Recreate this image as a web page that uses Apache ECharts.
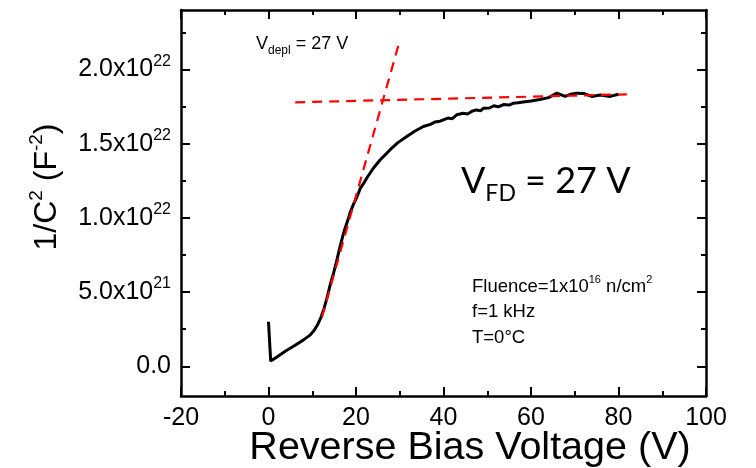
<!DOCTYPE html>
<html>
<head>
<meta charset="utf-8">
<script src="https://cdn.jsdelivr.net/npm/echarts@6/dist/echarts.min.js"></script>
<style>
html,body{margin:0;padding:0;background:#fff;}
#chart{width:756px;height:468px;}
</style>
</head>
<body>
<div id="chart"></div>
<script>
// Reverse bias voltage (V)
const voltage = [0.0, 0.5, 2, 4, 6, 8, 9.5, 10.5, 11.3, 12.0, 12.7, 13.4, 14.2, 14.8, 15.5, 16.3, 17.0, 17.5, 18.2, 18.6, 19.4, 20.2, 21.0, 21.7, 22.5, 24.0, 25.5, 27.8, 29.5, 31.6, 33.5, 35.4, 37.0, 38.0, 39.2, 41.0, 42.0, 43.0, 44.5, 45.5, 46.5, 47.5, 48.5, 49.1, 50.5, 51.5, 52.5, 53.7, 55.0, 56.0, 57.0, 58.2, 60.0, 62.0, 64.0, 65.9, 67.8, 69.0, 70.5, 72.0, 73.9, 75.8, 78.1, 80.0];
// 1/C^2 in units of 1e22 F^-2
const invCapSq = [0.30, 0.035, 0.065, 0.105, 0.14, 0.178, 0.21, 0.245, 0.285, 0.33, 0.39, 0.464, 0.56, 0.62, 0.70, 0.80, 0.88, 0.93, 0.99, 1.03, 1.09, 1.14, 1.20, 1.23, 1.27, 1.336, 1.39, 1.459, 1.505, 1.548, 1.585, 1.615, 1.63, 1.645, 1.651, 1.672, 1.668, 1.694, 1.704, 1.70, 1.718, 1.727, 1.722, 1.738, 1.740, 1.755, 1.748, 1.763, 1.760, 1.772, 1.775, 1.780, 1.787, 1.797, 1.810, 1.840, 1.818, 1.832, 1.840, 1.838, 1.818, 1.828, 1.818, 1.832];
// Red dashed fit lines
const steepFitV = [12.2, 29.7];
const steepFitY = [0.33, 2.163];
const flatFitV = [6.1, 81.9];
const flatFitY = [1.778, 1.832];
// Axis ticks
const xMin = -20, xMax = 100, xStep = 20;
const yMin = -0.2, yMax = 2.4;
const yMajorTicks = [0, 0.5, 1.0, 1.5, 2.0];
const yMinorTicks = [0.25, 0.75, 1.25, 1.75, 2.25];
const yTickMantissa = ['0.0', '5.0', '1.0', '1.5', '2.0'];
const yTickExponent = ['', '21', '22', '22', '22'];

const FONT = 'Liberation Sans, Arial, sans-serif';
const chart = echarts.init(document.getElementById('chart'), null, {renderer: 'canvas'});

const toPairs = (xs, ys) => xs.map((x, i) => [x, ys[i]]);
const axisLine = {show: true, onZero: false, lineStyle: {color: '#000', width: 2.5}};
const tickStyle = {color: '#000', width: 2};

function xAxisDef(pos, showLabel) {
  return {
    type: 'value', position: pos, min: xMin, max: xMax, interval: xStep,
    axisLine: axisLine,
    axisTick: {show: true, inside: true, length: 9, lineStyle: tickStyle},
    minorTick: {show: true, splitNumber: 2, length: 5, lineStyle: tickStyle},
    axisLabel: {show: showLabel, fontSize: 25, fontFamily: FONT, color: '#000', margin: 10},
    splitLine: {show: false}, minorSplitLine: {show: false}
  };
}
function yAxisDef(pos, ticks, len, showLine, showLabel) {
  return {
    type: 'value', position: pos, min: yMin, max: yMax,
    axisLine: Object.assign({}, axisLine, {show: showLine}),
    axisTick: {show: true, inside: true, length: len, lineStyle: tickStyle, customValues: ticks},
    axisLabel: showLabel ? {
      show: true, customValues: ticks, margin: 10,
      formatter: function (v) {
        let i = yMajorTicks.findIndex(t => Math.abs(t - v) < 1e-9);
        if (i < 0) return '';
        return yTickExponent[i] ? '{b|' + yTickMantissa[i] + 'x10}{s|' + yTickExponent[i] + '}' : '{b|' + yTickMantissa[i] + '}';
      },
      rich: {
        b: {fontSize: 25, fontFamily: FONT, color: '#000', lineHeight: 32},
        s: {fontSize: 16, fontFamily: FONT, color: '#000', verticalAlign: 'top', lineHeight: 16}
      }
    } : {show: false},
    splitLine: {show: false}
  };
}

chart.setOption({
  animation: false,
  backgroundColor: '#fff',
  grid: {left: 181, right: 50, top: 10, bottom: 72, containLabel: false},
  xAxis: [xAxisDef('bottom', true), xAxisDef('top', false)],
  yAxis: [
    yAxisDef('left', yMajorTicks, 9, true, true),
    yAxisDef('left', yMinorTicks, 5, false, false),
    yAxisDef('right', yMajorTicks, 9, true, false),
    yAxisDef('right', yMinorTicks, 5, false, false)
  ],
  series: [
    {type: 'line', data: toPairs(voltage, invCapSq), showSymbol: false, symbol: 'none',
     lineStyle: {color: '#000', width: 3}, z: 2},
    {type: 'line', data: toPairs(steepFitV, steepFitY), showSymbol: false, symbol: 'none',
     lineStyle: {color: '#ff0000', width: 2.2, type: [10, 7]}, z: 3},
    {type: 'line', data: toPairs(flatFitV, flatFitY), showSymbol: false, symbol: 'none',
     lineStyle: {color: '#ff0000', width: 2.2, type: [10, 7]}, z: 3}
  ],
  graphic: [
    {type: 'text', x: 470, y: 448, style: {text: 'Reverse Bias Voltage (V)', fontSize: 39.5, fontFamily: FONT, fill: '#000', align: 'center', verticalAlign: 'middle'}},
    {type: 'text', x: 47, y: 187, rotation: Math.PI / 2, style: {
      text: '{a|1/C}{s|2}{a| (F}{s|-2}{a|)}', align: 'center', verticalAlign: 'middle',
      rich: {
        a: {fontSize: 32, fontFamily: FONT, fill: '#000', lineHeight: 40},
        s: {fontSize: 19, fontFamily: FONT, fill: '#000', verticalAlign: 'top', lineHeight: 19}
      }}},
    {type: 'text', x: 256, y: 44, style: {
      text: '{a|V}{b|depl}{a| = 27 V}', align: 'left', verticalAlign: 'middle',
      rich: {
        a: {fontSize: 18, fontFamily: FONT, fill: '#000', lineHeight: 26},
        b: {fontSize: 12, fontFamily: FONT, fill: '#000', verticalAlign: 'bottom', lineHeight: 12}
      }}},
    {type: 'text', x: 461, y: 181, style: {
      text: '{a|V}{b|FD}{a| = 27 V}', align: 'left', verticalAlign: 'middle',
      rich: {
        a: {fontSize: 36, fontFamily: 'Lato, Open Sans, sans-serif', fill: '#000', lineHeight: 48},
        b: {fontSize: 23, fontFamily: 'Lato, Open Sans, sans-serif', fill: '#000', verticalAlign: 'bottom', lineHeight: 23}
      }}},
    {type: 'text', x: 472, y: 274, style: {
      text: '{a|Fluence=1x10}{s|16}{a| n/cm}{s|2}\n{a|f=1 kHz}\n{a|T=0°C}', align: 'left', verticalAlign: 'top',
      rich: {
        a: {fontSize: 18.5, fontFamily: FONT, fill: '#000', lineHeight: 25.5},
        s: {fontSize: 11, fontFamily: FONT, fill: '#000', verticalAlign: 'top', lineHeight: 14}
      }}}
  ]
});
</script>
</body>
</html>
